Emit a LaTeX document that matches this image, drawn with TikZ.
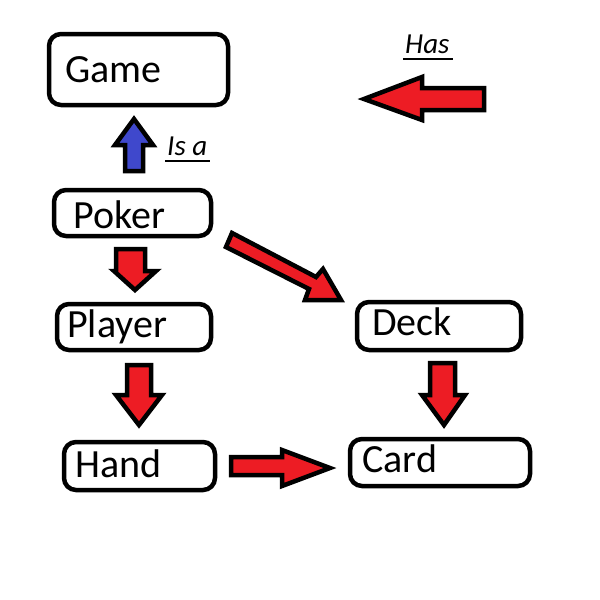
\documentclass[tikz,border=0pt]{standalone}
\usepackage{fontspec}
\setmainfont{Carlito}
\begin{document}
\begin{tikzpicture}[x=1pt,y=-1pt,
  box/.style={draw=black, line width=4.5pt, rounded corners=12pt, fill=white},
  txt/.style={anchor=base west, inner sep=0pt, font=\fontsize{40}{48}\selectfont},
  lbl/.style={anchor=base west, inner sep=0pt, font=\fontsize{29}{34}\selectfont\itshape},
  redarrow/.style={draw=black, line width=4.5pt, fill=arrowred, line join=miter},
  bluearrow/.style={draw=black, line width=4.5pt, fill=arrowblue, line join=miter},
  uline/.style={draw=black, line width=2pt}
]
\definecolor{arrowred}{HTML}{ED1C24}
\definecolor{arrowblue}{HTML}{3F48CC}
\useasboundingbox (0,0) rectangle (600,600);
\fill[white] (0,0) rectangle (600,600);

% boxes
\draw[box] (49,34) rectangle (228,105);
\draw[box] (54,190) rectangle (211,236);
\draw[box] (57,304) rectangle (211,350);
\draw[box] (64,442) rectangle (215,490);
\draw[box] (357,302) rectangle (521,350);
\draw[box] (350,439) rectangle (530,486);

% texts
\node[txt] (game) at (65,82) {Game};
\node[txt] (poker) at (73,228) {Poker};
\node[txt] (player) at (67,337) {Player};
\node[txt] (hand) at (75,477) {Hand};
\node[txt] (deck) at (372,335) {Deck};
\node[txt] (card) at (362,472) {Card};

% legend
\node[lbl] (has) at (405,53) {Has};
\draw[uline] (403,59) -- (453,59);
\draw[redarrow] (364,99) -- (422,77) -- (422,88) -- (484,88) -- (484,110) -- (422,110) -- (422,120) -- cycle;

\node[lbl] (isa) at (167,155) {Is a};
\draw[uline] (165,161) -- (210,161);

% blue is-a arrow
\draw[bluearrow] (134,119) -- (153,145) -- (143,145) -- (143,171) -- (125,171) -- (125,145) -- (115,145) -- cycle;

% Poker -> Player
\draw[redarrow] (135,290) -- (156,271) -- (145,271) -- (145,249) -- (116,249) -- (116,271) -- (114,271) -- cycle;
% Player -> Hand
\draw[redarrow] (139,425) -- (162,395) -- (151,395) -- (151,365) -- (127,365) -- (127,395) -- (116,395) -- cycle;
% Deck -> Card
\draw[redarrow] (444,425) -- (465,395) -- (455,395) -- (455,363) -- (430,363) -- (430,395) -- (422,395) -- cycle;
% Hand -> Card
\draw[redarrow] (330,468) -- (282,450) -- (282,457) -- (231,457) -- (231,475) -- (282,475) -- (282,486) -- cycle;
% Poker -> Deck
\draw[redarrow] (232,233) -- (316,277) -- (323,269) -- (341,300) -- (305,300) -- (309,289) -- (226,247) -- cycle;
\end{tikzpicture}
\end{document}
